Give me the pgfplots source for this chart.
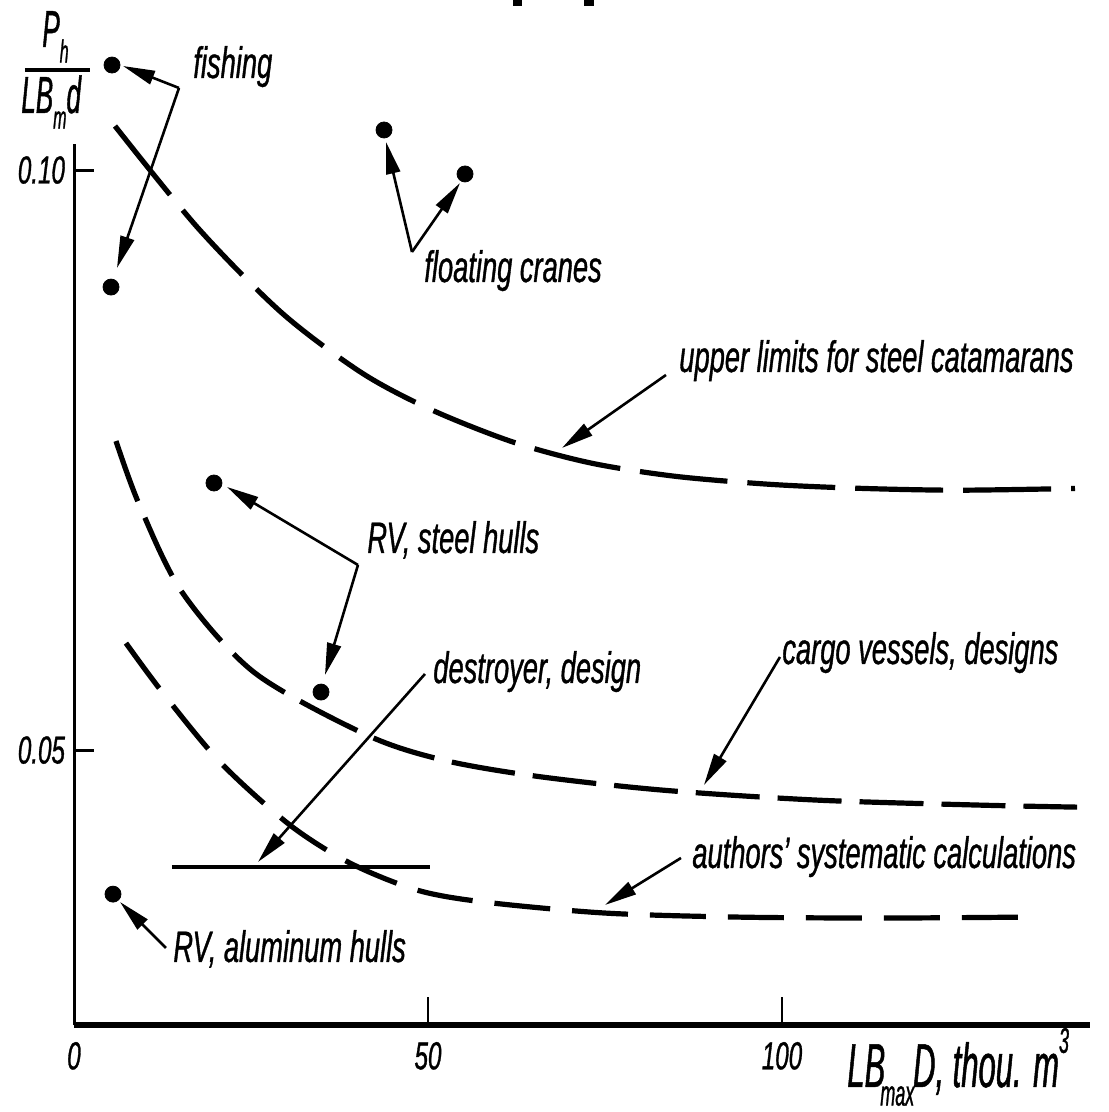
\documentclass[border=0pt]{standalone}
\usepackage{fontspec}
\setmainfont{Liberation Sans}[FakeStretch=0.62, FakeBold=0.8]
\newfontfamily\xlfam{Liberation Sans}[FakeStretch=0.5, FakeBold=0.8]
\usepackage{pgfplots}
\pgfplotsset{compat=1.18}
\usetikzlibrary{arrows.meta}
\newcommand\lbl{\fontsize{22bp}{26bp}\selectfont\itshape}
\newcommand\tlbl{\fontsize{19.5bp}{24bp}\selectfont\itshape}
\newcommand\ylfont{\xlfam\fontsize{26bp}{30bp}\selectfont\itshape}
\newcommand\xl{\xlfam\fontsize{31bp}{34bp}\selectfont\itshape}
\begin{document}
\begin{tikzpicture}
\begin{axis}[
  at={(0,0)}, anchor=south west,
  scale only axis, width=508bp, height=440.25bp,
  xmin=0, xmax=143.5, ymin=0.0263, ymax=0.1022,
  axis lines=left, axis line style={-},
  x axis line style={line width=3bp},
  y axis line style={line width=1.5bp},
  clip=false,
  xtick={0,50,100}, xticklabels={0,50,100},
  ytick={0.05,0.10}, yticklabels={0.05,0.10},
  tick align=inside,
  xtick style={black, line width=1bp, /pgfplots/major tick length=14bp},
  ytick style={black, line width=1.5bp, /pgfplots/major tick length=10bp},
  ticklabel style={font=\tlbl},
  xticklabel style={yshift=-5bp},
  yticklabel style={xshift=-1bp},
]
% upper limits for steel catamarans
\addplot[black, line width=2.6bp, smooth, dash pattern=on 44bp off 10bp] coordinates {
(5.79,0.10379) (17.51,0.09500) (29.38,0.08767) (40.68,0.08250) (50.56,0.07931)
(62.01,0.07655) (73.02,0.07474) (84.89,0.07360) (98.45,0.07290) (111.58,0.07255)
(125.0,0.07240) (141.38,0.07255)};
% cargo vessels, designs
\addplot[black, line width=2.6bp, smooth, dash pattern=on 32bp off 9bp] coordinates {
(5.93,0.07664) (9.18,0.07121) (15.25,0.06362) (25.56,0.05664)
(41.38,0.05129) (52.12,0.04914) (65.11,0.04776) (83.05,0.04655) (104.80,0.04569)
(127.54,0.04526) (141.67,0.04508)};
% authors' systematic calculations
\addplot[black, line width=2.6bp, smooth, dash pattern=on 28bp off 11bp] coordinates {
(7.34,0.05922) (12.57,0.05491) (20.76,0.04888) (30.51,0.04353) (38.98,0.04026)
(48.45,0.03793) (57.91,0.03690) (75.0,0.03595) (93.93,0.03560) (114.41,0.03552)
(134.32,0.03560)};
% destroyer, design
\addplot[black, line width=2bp] coordinates {(13.84,0.03991) (50.28,0.03991)};
% points
\addplot[only marks, mark=*, mark size=4bp, black] coordinates {
(5.37,0.10905) (5.23,0.08991) (43.79,0.10345) (55.23,0.09966)
(19.77,0.07302) (34.89,0.05500) (5.51,0.03758)};
\end{axis}
\begin{scope}[x=0.5bp, y=-0.5bp, shift={(-37bp,512.5bp)},
  arr/.style={line width=1.3bp, -{Triangle[length=16bp,width=7bp]}},
  lab/.style={anchor=base west, inner sep=0pt, font=\lbl}]
% y label fraction
\node[anchor=base west, inner sep=0pt, font=\ylfont] at (42,47) {P\raisebox{-0.3em}{\fontsize{16bp}{16bp}\selectfont h}};
\draw[line width=2bp] (25,70) -- (90,70);
\node[anchor=base west, inner sep=0pt, font=\ylfont] at (21,113) {LB\raisebox{-0.3em}{\fontsize{16bp}{16bp}\selectfont m}d};
% x label
\node[anchor=base west, inner sep=0pt, font=\xl] at (847,1087) {LB\kern-0.08em\raisebox{-0.3em}{\fontsize{18bp}{18bp}\selectfont max}\kern-0.02em D, thou. m\raisebox{0.55em}{\fontsize{18bp}{18bp}\selectfont 3}};
% title remnants
\fill (513,0) rectangle (522,6);
\fill (584,0) rectangle (594,6);
% labels
\node[lab] at (193,78) {fishing};
\node[lab] at (424,282) {floating cranes};
\node[lab] at (679,372) {upper limits for steel catamarans};
\node[lab] at (367,553) {RV, steel hulls};
\node[lab] at (433,683) {destroyer, design};
\node[lab] at (782,664) {cargo vessels, designs};
\node[lab] at (692,868) {authors' systematic calculations};
\node[lab] at (173,962) {RV, aluminum hulls};
% arrows
\draw[arr] (179,88) -- (123,66);
\draw[arr] (179,88) -- (117,268);
\draw[arr] (412,252) -- (386,142);
\draw[arr] (412,252) -- (460,183);
\draw[arr] (666,375) -- (562,448);
\draw[arr] (358,565) -- (227,487);
\draw[arr] (358,565) -- (325,675);
\draw[arr] (425,674) -- (258,862);
\draw[arr] (780,657) -- (704,785);
\draw[arr] (681,858) -- (605,905);
\draw[arr] (166,948) -- (120,902);
\end{scope}
\pgfresetboundingbox
\useasboundingbox (-37bp,-43.5bp) rectangle (517.5bp,512.5bp);
\end{tikzpicture}
\end{document}
